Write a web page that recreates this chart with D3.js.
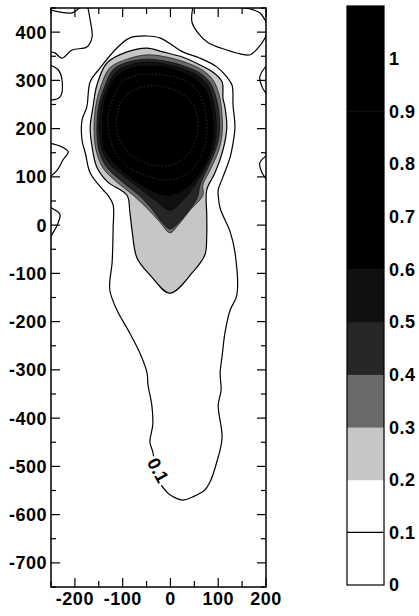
<!DOCTYPE html>
<html><head><meta charset="utf-8">
<script src="https://cdn.jsdelivr.net/npm/d3@7"></script>
<style>html,body{margin:0;padding:0;background:#fff}</style>
</head><body><svg id="c" width="419" height="616"></svg>
<script>
// ---------- data ----------
const xTickLabels = [-200,-100,0,100,200];
const yTickLabels = [-700,-600,-500,-400,-300,-200,-100,0,100,200,300,400];
const cbEdges = [0,0.1,0.2,0.3,0.4,0.5,0.6,0.7,0.8,0.9,1.0,1.1];
const cbLabels = ["0","0.1","0.2","0.3","0.4","0.5","0.6","0.7","0.8","0.9","1"];
const cbColors = ["#ffffff","#ffffff","#c6c6c6","#6a6a6a","#262626","#101010","#000","#000","#000","#000","#000"];
const bandLevels = [0.2,0.3,0.4,0.5,0.6];
const bandColors = ["#c6c6c6","#6a6a6a","#262626","#101010","#000000"];

const c01 = [[-85,388],[-49,392],[-22,388],[26,359],[62,346],[97,328],[118,307],[129,290],[131,249],[135,203],[131,170],[125,141],[110,100],[100,73],[100,62],[104,35],[125,-14],[135,-56],[139,-145],[125,-176],[114,-224],[108,-273],[104,-306],[106,-342],[100,-373],[108,-441],[97,-491],[83,-532],[72,-549],[47,-563],[26,-570],[-1,-559],[-11,-549],[-25,-530],[-37,-470],[-43,-449],[-37,-414],[-39,-373],[-47,-331],[-49,-306],[-64,-265],[-85,-224],[-112,-176],[-127,-134],[-122,-76],[-120,-6],[-120,42],[-131,62],[-141,73],[-168,108],[-178,149],[-185,176],[-185,218],[-175,245],[-168,297],[-147,326],[-112,367]];
const c02 = [[-154,290],[-133,336],[-91,359],[-49,367],[-16,359],[26,348],[62,332],[89,317],[108,297],[110,263],[114,245],[118,203],[110,156],[93,108],[76,73],[76,21],[76,-20],[72,-62],[47,-97],[-1,-141],[-43,-103],[-70,-68],[-80,-14],[-85,27],[-91,62],[-131,89],[-154,120],[-164,162],[-168,203],[-162,245]];
const c03 = [[-147,284],[-127,326],[-91,344],[-49,353],[-11,349],[30,338],[66,322],[89,301],[102,270],[108,228],[108,187],[100,152],[83,114],[68,83],[68,62],[41,31],[16,0],[-1,-16],[-22,6],[-49,35],[-78,62],[-112,89],[-141,118],[-156,156],[-160,201],[-156,249]];
const c04 = [[-139,284],[-120,322],[-89,338],[-49,344],[-11,340],[28,330],[62,315],[83,295],[95,266],[102,228],[102,187],[93,152],[76,114],[62,83],[56,56],[36,27],[12,0],[-1,-8],[-18,6],[-40,35],[-66,62],[-100,89],[-135,122],[-150,156],[-154,201],[-150,249]];
const c05 = [[-135,280],[-114,317],[-85,332],[-49,338],[-11,334],[26,324],[58,309],[79,288],[89,259],[95,222],[95,183],[87,149],[70,114],[51,83],[30,56],[-1,31],[-32,52],[-60,73],[-93,98],[-127,127],[-143,156],[-150,201],[-145,249]];
const c06 = [[-131,276],[-110,311],[-80,326],[-49,330],[-11,328],[24,317],[53,303],[72,282],[83,255],[89,218],[89,181],[81,145],[62,110],[41,83],[-1,62],[-43,73],[-85,100],[-118,129],[-137,156],[-143,201],[-139,249]];
const c07 = [[-122,259],[-101,297],[-70,311],[-43,313],[-1,309],[35,297],[58,276],[70,249],[76,214],[74,176],[62,139],[37,108],[-1,94],[-43,100],[-85,118],[-112,145],[-127,181],[-131,222]];
const c08 = [[-110,239],[-89,272],[-53,288],[-11,286],[24,272],[49,247],[58,208],[49,166],[24,135],[-11,123],[-53,129],[-89,152],[-110,187]];

// open 0.1 contour pieces touching the frame
const edgeTL1 = [[-252,446],[-206,440],[-189,452]];
const edgeTL2 = [[-173,452],[-168,425],[-164,390],[-175,369],[-206,363],[-227,346],[-242,357],[-252,359]];
const edgeL1 = [[-252,332],[-235,322],[-227,301],[-231,266],[-252,259]];
const edgeL2 = [[-252,170],[-227,162],[-214,152],[-225,135],[-237,114],[-252,100]];
const edgeL3 = [[-252,37],[-235,27],[-231,21],[-237,0],[-246,-16],[-252,-26]];
const edgeR1 = [[202,332],[187,307],[192,286],[202,270]];
const edgeR2 = [[202,145],[187,129],[192,108],[202,94]];
const edgeTR1 = [[47,452],[45,421],[58,398],[79,378],[118,363],[146,355],[167,353],[183,367],[198,388],[202,400]];
const edgeTR2 = [[131,452],[167,448],[187,440],[198,425],[202,417]];

const labelPos = [-26,-508];

// ---------- drawing ----------
const svg = d3.select("#c");
const FONT = "'Liberation Sans', Arial, Helvetica, sans-serif";
const x = d3.scaleLinear().domain([-250,200]).range([51,266]);
const y = d3.scaleLinear().domain([-750,450]).range([587,8]);

svg.append("defs").append("clipPath").attr("id","pc")
  .append("rect").attr("x",x(-250)).attr("y",y(450))
  .attr("width",x(200)-x(-250)).attr("height",y(-750)-y(450));

const g = svg.append("g").attr("clip-path","url(#pc)");
const closed = d3.line().x(d=>x(d[0])).y(d=>y(d[1])).curve(d3.curveCatmullRomClosed.alpha(0.5));
const open = d3.line().x(d=>x(d[0])).y(d=>y(d[1])).curve(d3.curveCatmullRom.alpha(0.5));

const rings = [c02,c03,c04,c05,c06];
rings.forEach((r,i)=>{
  g.append("path").attr("d",closed(r)).attr("fill",bandColors[i])
    .attr("stroke","#000").attr("stroke-width", i===0?1.2:0.6);
});
[c07,c08].forEach(r=>{
  g.append("path").attr("d",closed(r)).attr("fill","none")
    .attr("stroke","#3a3a3a").attr("stroke-width",0.8).attr("stroke-dasharray","1.5,2");
});
g.append("path").attr("d",closed(c01)).attr("fill","none").attr("stroke","#000").attr("stroke-width",1.2);
[edgeTL1,edgeTL2,edgeL1,edgeL2,edgeL3,edgeR1,edgeR2,edgeTR1,edgeTR2].forEach(p=>{
  g.append("path").attr("d",open(p)).attr("fill","none").attr("stroke","#000").attr("stroke-width",1.2);
});

// contour label
svg.append("text").attr("transform",`translate(${x(labelPos[0])},${y(labelPos[1])}) rotate(61)`)
  .attr("text-anchor","middle").attr("dy","0.35em")
  .attr("font-family",FONT).attr("font-weight","bold").attr("font-size",18)
  .attr("stroke","#fff").attr("stroke-width",5).attr("paint-order","stroke")
  .attr("fill","#000").text("0.1");

// frame
svg.append("rect").attr("x",x(-250)).attr("y",y(450))
  .attr("width",x(200)-x(-250)).attr("height",y(-750)-y(450))
  .attr("fill","none").attr("stroke","#000").attr("stroke-width",1.5);

// ticks (inward on all four sides)
const xMinor = d3.range(-250,201,50);
const yMinor = d3.range(-750,451,50);
const ax = svg.append("g").attr("stroke","#000").attr("stroke-width",1.2);
xMinor.forEach(v=>{
  const L = v%100===0 ? 9 : 6;
  ax.append("line").attr("x1",x(v)).attr("x2",x(v)).attr("y1",y(-750)).attr("y2",y(-750)-L);
  ax.append("line").attr("x1",x(v)).attr("x2",x(v)).attr("y1",y(450)).attr("y2",y(450)+L);
});
yMinor.forEach(v=>{
  const L = v%100===0 ? 9 : 5;
  ax.append("line").attr("y1",y(v)).attr("y2",y(v)).attr("x1",x(-250)).attr("x2",x(-250)+L);
  ax.append("line").attr("y1",y(v)).attr("y2",y(v)).attr("x1",x(200)).attr("x2",x(200)-L);
});

const lab = svg.append("g").attr("font-family",FONT).attr("font-weight","bold").attr("font-size",18).attr("fill","#000");
xTickLabels.forEach(v=>{
  lab.append("text").attr("x",x(v)).attr("y",605).attr("text-anchor","middle")
    .attr("letter-spacing","0.5px").text(v);
});
yTickLabels.forEach(v=>{
  lab.append("text").attr("x",47).attr("y",y(v)).attr("dy","0.36em").attr("text-anchor","end")
    .attr("letter-spacing","0.5px").text(v);
});

// colorbar
const cb = d3.scaleLinear().domain([0,1.1]).range([585,6]);
const cbX = 347, cbW = 37;
cbColors.forEach((col,i)=>{
  svg.append("rect").attr("x",cbX).attr("y",cb(cbEdges[i+1])).attr("width",cbW)
    .attr("height",cb(cbEdges[i])-cb(cbEdges[i+1])+0.5).attr("fill",col);
});
svg.append("line").attr("x1",cbX).attr("x2",cbX+cbW).attr("y1",cb(0.1)).attr("y2",cb(0.1)).attr("stroke","#000").attr("stroke-width",1.2);
svg.append("rect").attr("x",cbX).attr("y",cb(1.1)).attr("width",cbW).attr("height",cb(0)-cb(1.1))
  .attr("fill","none").attr("stroke","#000").attr("stroke-width",1.2);
cbLabels.forEach((t,i)=>{
  lab.append("text").attr("x",389).attr("y",cb(cbEdges[i])).attr("dy","0.36em")
    .attr("letter-spacing","0.5px").text(t);
});
</script></body></html>
